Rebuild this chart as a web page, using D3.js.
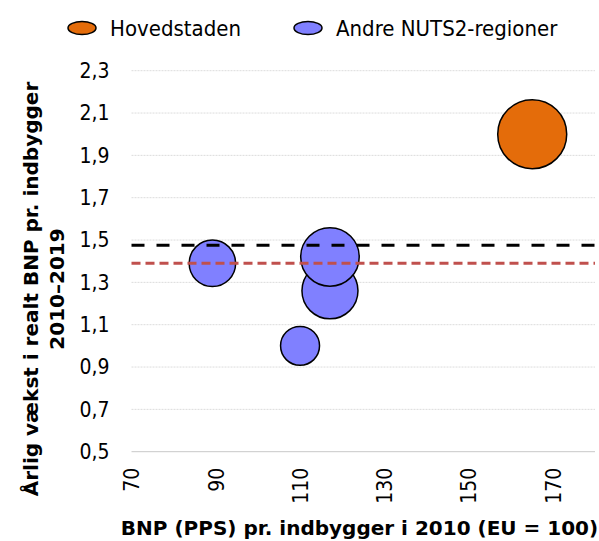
<!DOCTYPE html>
<html lang="da">
<head>
<meta charset="UTF-8">
<title>BNP og vækst</title>
<script src="https://d3js.org/d3.v7.min.js"></script>
<style>
  body { margin: 0; background: #fff; font-family: "DejaVu Sans", sans-serif; }
  .tick text { font-family: "DejaVu Sans Condensed", "DejaVu Sans", sans-serif; font-size: 21px; fill: #000; }
  .title { font-family: "DejaVu Sans", sans-serif; font-weight: bold; font-size: 20px; }
  .legend text { font-family: "DejaVu Sans Condensed", "DejaVu Sans", sans-serif; font-size: 22px; }
</style>
</head>
<body>
<div id="chart"></div>
<script>
// data
const regions = ["Hovedstaden", "Sjælland", "Syddanmark", "Midtjylland", "Nordjylland"];
const gdpPerHead = [165.1, 89.2, 117.1, 117.1, 110.0];    // BNP (PPS) pr. indbygger 2010, EU = 100
const growth = [2.0, 1.39, 1.26, 1.42, 1.0];               // årlig vækst 2010-2019
const population = [1.85, 0.84, 1.22, 1.33, 0.59];         // bubble size, mio.
const group = ["capital", "other", "other", "other", "other"];
const refLines = [{ value: 1.475, kind: "black" }, { value: 1.39, kind: "red" }];
const xTicks = [70, 90, 110, 130, 150, 170];
const yTicks = [0.5, 0.7, 0.9, 1.1, 1.3, 1.5, 1.7, 1.9, 2.1, 2.3];
const legendLabels = ["Hovedstaden", "Andre NUTS2-regioner"];

const width = 599, height = 541;
const colors = { capital: "#e46c0a", other: "#8080ff" };

const svg = d3.select("#chart").append("svg")
    .attr("width", width)
    .attr("height", height);

const x = d3.scaleLinear().domain([70, 180]).range([131.5, 595]);
const y = d3.scaleLinear().domain([0.5, 2.3]).range([451.7, 70.7]);
const r = d3.scaleSqrt().domain([0, 1.85]).range([0, 34.5]);

// gridlines
svg.append("g")
    .selectAll("line")
    .data(yTicks)
    .join("line")
    .attr("x1", x(70)).attr("x2", x(180))
    .attr("y1", d => y(d)).attr("y2", d => y(d))
    .attr("stroke", d => d === 0.5 ? "#c8c8c8" : "#dcdcdc")
    .attr("stroke-width", 1)
    .attr("stroke-dasharray", d => d === 0.5 ? null : "2,1");

// y axis
const yAxis = svg.append("g")
    .attr("transform", "translate(" + x(70) + ",0)")
    .call(d3.axisLeft(y).tickValues(yTicks).tickSize(0).tickPadding(22)
        .tickFormat(d => d3.format(".1f")(d).replace(".", ",")));
yAxis.select(".domain").remove();

// x axis, labels turned
const xAxis = svg.append("g")
    .attr("transform", "translate(0," + y(0.5) + ")")
    .call(d3.axisBottom(x).tickValues(xTicks).tickSize(0));
xAxis.select(".domain").remove();
xAxis.selectAll(".tick text")
    .attr("transform", "rotate(-90)")
    .attr("text-anchor", "end")
    .attr("x", -16)
    .attr("y", 0)
    .attr("dy", "0.35em");

// bubbles, drawn in the order of the picture
const points = regions.map((name, i) => ({
    name, x: gdpPerHead[i], y: growth[i], size: population[i], group: group[i]
}));
const order = [0, 1, 4, 2, 3];
svg.append("g")
    .selectAll("circle")
    .data(order.map(i => points[i]))
    .join("circle")
    .attr("cx", d => x(d.x))
    .attr("cy", d => y(d.y))
    .attr("r", d => r(d.size))
    .attr("fill", d => colors[d.group])
    .attr("stroke", "#000")
    .attr("stroke-width", 1.5);

// reference lines
svg.append("g")
    .selectAll("line")
    .data(refLines)
    .join("line")
    .attr("x1", x(70)).attr("x2", x(180))
    .attr("y1", d => y(d.value)).attr("y2", d => y(d.value))
    .attr("stroke", d => d.kind === "black" ? "#000" : "#c0504d")
    .attr("stroke-width", 3)
    .attr("stroke-dasharray", d => d.kind === "black" ? "13,12" : "9,5");

// legend
const legend = svg.append("g").attr("class", "legend")
    .selectAll("g")
    .data(legendLabels)
    .join("g")
    .attr("transform", (d, i) => "translate(" + (i === 0 ? 82 : 308) + ",28)");
legend.append("ellipse")
    .attr("rx", 14).attr("ry", 6.5)
    .attr("fill", (d, i) => i === 0 ? colors.capital : colors.other)
    .attr("stroke", "#000")
    .attr("stroke-width", 1.5);
legend.append("text")
    .attr("x", 28)
    .attr("y", 7.5)
    .text(d => d);

// axis titles
svg.append("text")
    .attr("class", "title")
    .attr("x", 359.5)
    .attr("y", 535)
    .attr("text-anchor", "middle")
    .text("BNP (PPS) pr. indbygger i 2010 (EU = 100)");

const yTitle = svg.append("text")
    .attr("class", "title")
    .attr("transform", "translate(38,289) rotate(-90)")
    .attr("text-anchor", "middle");
yTitle.append("tspan").attr("x", 0).attr("dy", 0).text("Årlig vækst i realt BNP pr. indbygger");
yTitle.append("tspan").attr("x", 0).attr("dy", 26).text("2010–2019");
</script>
</body>
</html>
